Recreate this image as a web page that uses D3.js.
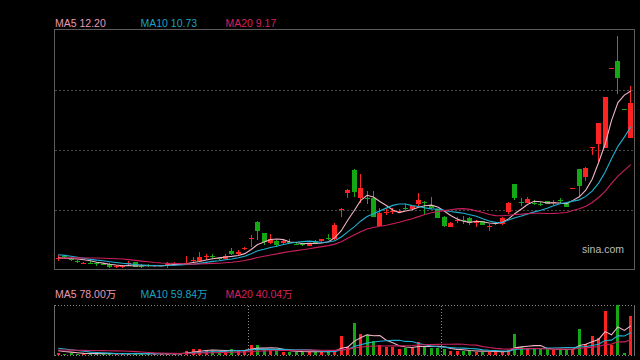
<!DOCTYPE html>
<html><head><meta charset="utf-8">
<script src="https://cdn.jsdelivr.net/npm/d3@7"></script>
<style>html,body{margin:0;padding:0;background:#000;}svg{display:block;}</style>
</head><body><svg id="c" width="640" height="360"></svg>
<script>
// ---- data (prices in 元, volume in 万手) ----
const priorClose = [5.13,5.17,5.17,5.21,5.17,5.13,5.17,5.21,5.21,5.17, 5.67,5.62,5.58,5.58,5.58, 5.42,5.34,5.30,5.30];
const priorVolume = [8,9,10,8,9,9,8,10,9,8, 22,26,25,24,25, 15,13,12,12];

const open = [5.32,5.42,5.34,5.21,5.13,5.15,5.13,5.11,5.11,4.97,
4.97,5.09,5.17,5.02,5.05,4.99,5.01,5.01,5.09,5.09,
5.09,5.21,5.20,5.40,5.40,5.32,5.31,5.64,5.49,5.72,
6.12,6.82,6.35,5.94,6.04,5.94,6.01,5.92,5.94,5.83,
6.01,6.02,6.17,6.10,7.35,7.99,8.95,7.82,7.82,7.82,
6.65,7.20,7.26,7.24,7.39,7.34,7.56,7.63,7.53,7.34,
7.03,6.62,6.89,6.91,6.99,6.76,6.86,6.63,6.73,6.73,
7.24,8.38,7.63,7.61,7.61,7.54,7.68,7.61,7.71,7.61,
8.20,9.00,8.67,9.89,10.03,9.87,13.16,13.43,11.45,10.28];
const high = [5.44,5.46,5.36,5.27,5.19,5.21,5.17,5.15,5.13,5.03,
5.05,5.23,5.19,5.09,5.07,5.05,5.05,5.17,5.17,5.13,
5.43,5.37,5.58,5.50,5.50,5.34,5.49,5.75,5.67,5.80,
6.27,6.84,6.36,6.32,6.06,6.06,6.10,5.97,5.95,5.95,
6.08,6.13,6.32,6.76,7.40,8.19,8.99,8.79,8.11,8.09,
7.41,7.34,7.40,7.34,7.54,7.49,8.02,7.69,7.83,7.35,
7.08,6.80,7.03,7.06,7.02,6.89,6.87,6.73,6.80,7.03,
7.65,8.39,7.79,7.83,7.72,7.63,7.69,7.72,7.79,7.63,
8.20,9.00,9.08,9.91,10.87,11.96,13.16,14.48,11.45,12.41];
const low = [5.21,5.34,5.23,5.13,5.11,5.09,5.01,5.05,4.92,4.92,
4.92,5.05,4.95,4.92,4.97,4.97,4.99,4.92,5.05,5.07,
5.05,5.17,5.17,5.25,5.28,5.25,5.30,5.47,5.46,5.67,
5.78,6.08,5.87,5.91,5.78,5.91,5.95,5.85,5.84,5.81,
5.94,6.01,6.08,6.08,7.01,7.82,7.86,7.58,7.54,7.02,
6.64,7.10,7.14,7.17,7.31,7.32,7.44,7.10,7.37,6.97,
6.60,6.61,6.76,6.73,6.68,6.62,6.68,6.46,6.71,6.68,
7.14,7.72,7.47,7.60,7.51,7.47,7.54,7.51,7.60,7.43,
8.20,7.86,8.50,9.57,9.29,9.87,13.16,12.08,11.45,10.28];
const close = [5.34,5.38,5.25,5.19,5.15,5.13,5.09,5.07,4.95,4.99,
5.00,5.13,4.98,5.00,4.99,5.03,5.03,5.15,5.11,5.11,
5.13,5.24,5.37,5.42,5.37,5.30,5.43,5.50,5.60,5.75,
6.15,6.46,5.99,6.12,5.86,6.02,5.98,5.90,5.86,5.94,
5.98,6.10,6.15,6.69,7.37,8.13,8.06,8.21,7.79,7.03,
7.20,7.23,7.28,7.26,7.37,7.47,7.72,7.60,7.38,6.98,
6.65,6.79,6.91,6.89,6.76,6.87,6.69,6.66,6.79,6.97,
7.61,7.79,7.60,7.75,7.58,7.51,7.56,7.64,7.68,7.44,
8.20,8.30,9.02,9.91,10.87,11.96,13.16,12.72,11.45,11.71];
const volume = [6,4,5,4,3,4,3,4,5,3,
3,4,5,3,3,3,3,5,4,4,
11,16,16,13,11,8,13,15,10,13,
27,27,15,13,11,9,9,8,9,9,
8,9,9,14,51,22,87,56,54,38,
27,22,22,16,20,20,35,22,18,20,
16,11,11,12,11,9,9,9,9,9,
13,56,22,18,16,15,17,14,16,15.4,
12.4,70,30,51,45,118,27,134,6,105];

const maPeriods = [5, 10, 20];
const maNames = ["MA5", "MA10", "MA20"];
const dividers = [30, 60];
const volumeUnit = "万";
const sourceLabel = "sina.com";

// ---- styles ----
const RED = "#ff2222", GREEN = "#14a814";
const maLineColors = ["#f0b4c6", "#1fb0d2", "#c8205c"];
const maTextColors = ["#e79ab2", "#1aa2c2", "#d8205e"];
const FONT = "'Liberation Sans', Arial, 'Noto Sans CJK SC', sans-serif";

const svg = d3.select("#c");
svg.append("rect").attr("width", 640).attr("height", 360).attr("fill", "#000");

const N = close.length;
const x = d3.scaleBand().domain(d3.range(N)).range([55, 634]).paddingInner(0.22).paddingOuter(0.11);
const cx = i => x(i) + x.bandwidth() / 2;
const y = d3.scaleLinear().domain([4.843, 14.707]).range([270, 30]);
const yv = d3.scaleLinear().domain([0, d3.max(volume)]).range([355, 305]);

const isUp = close.map((c, i) => c > open[i] ? true : c < open[i] ? false : (i > 0 ? c >= close[i - 1] : true));

function movingAvg(series, prior, n) {
  const all = prior.concat(series), off = prior.length;
  return series.map((_, i) => d3.mean(all.slice(off + i - n + 1, off + i + 1)));
}

// ---- price panel frame & grid ----
const gridVals = d3.range(1, 4).map(k => y.domain()[0] + k * (y.domain()[1] - y.domain()[0]) / 4);
svg.append("g").selectAll("line").data(gridVals).join("line")
  .attr("x1", 55).attr("x2", 634)
  .attr("y1", d => Math.round(y(d)) + 0.5).attr("y2", d => Math.round(y(d)) + 0.5)
  .attr("stroke", "#4a4a4a").attr("stroke-dasharray", "2,2").attr("shape-rendering", "crispEdges");
svg.append("rect").attr("x", 54.5).attr("y", 29.5).attr("width", 580).attr("height", 240)
  .attr("fill", "none").attr("stroke", "#5c5c5c").attr("shape-rendering", "crispEdges");

// ---- candles ----
const cg = svg.append("g").attr("shape-rendering", "crispEdges");
cg.selectAll("line").data(d3.range(N)).join("line")
  .attr("x1", i => Math.floor(cx(i)) + 0.5).attr("x2", i => Math.floor(cx(i)) + 0.5)
  .attr("y1", i => y(high[i])).attr("y2", i => y(low[i]))
  .attr("stroke", i => isUp[i] ? RED : GREEN).attr("stroke-width", 1);
cg.selectAll("rect").data(d3.range(N)).join("rect")
  .attr("x", i => Math.floor(cx(i)) - 2).attr("width", 5)
  .attr("y", i => y(Math.max(open[i], close[i])))
  .attr("height", i => Math.max(1, Math.abs(y(open[i]) - y(close[i]))))
  .attr("fill", i => isUp[i] ? RED : GREEN);

// ---- price MAs ----
const priceMA = maPeriods.map(n => movingAvg(close, priorClose, n));
const lineP = d3.line().x((d, i) => cx(i)).y(d => y(d));
priceMA.forEach((s, k) => {
  svg.append("path").datum(s).attr("d", lineP).attr("fill", "none")
    .attr("stroke", maLineColors[k]).attr("stroke-width", 1.1);
});

// ---- price legend ----
const legendX = [55, 140.5, 225.5];
priceMA.forEach((s, k) => {
  svg.append("text").attr("x", legendX[k]).attr("y", 27)
    .attr("font-family", FONT).attr("font-size", 10.5).attr("fill", maTextColors[k])
    .text(maNames[k] + " " + s[N - 1].toFixed(2));
});

// ---- source label ----
svg.append("text").attr("x", 582).attr("y", 253).attr("font-family", FONT)
  .attr("font-size", 10.5).attr("fill", "#bdbdbd").text(sourceLabel);

// ---- volume panel ----
const vg = svg.append("g").attr("shape-rendering", "crispEdges");
vg.append("line").attr("x1", 55).attr("x2", 634).attr("y1", 305.5).attr("y2", 305.5)
  .attr("stroke", "#8a8a8a").attr("stroke-dasharray", "1,2");
vg.append("line").attr("x1", 55).attr("x2", 634).attr("y1", 355.5).attr("y2", 355.5)
  .attr("stroke", "#8a8a8a").attr("stroke-dasharray", "1,2");
vg.append("line").attr("x1", 54.5).attr("x2", 54.5).attr("y1", 305).attr("y2", 356).attr("stroke", "#6a6a6a");
vg.append("line").attr("x1", 634.5).attr("x2", 634.5).attr("y1", 305).attr("y2", 356).attr("stroke", "#6a6a6a");
vg.selectAll("line.div").data(dividers).join("line").attr("class", "div")
  .attr("x1", d => Math.round(x(d) - x.step() * 0.11) + 0.5).attr("x2", d => Math.round(x(d) - x.step() * 0.11) + 0.5)
  .attr("y1", 306).attr("y2", 355).attr("stroke", "#8a8a8a").attr("stroke-dasharray", "1,2");

vg.selectAll("rect.v").data(d3.range(N)).join("rect").attr("class", "v")
  .attr("x", i => Math.floor(cx(i)) - 1).attr("width", 3)
  .attr("y", i => yv(volume[i])).attr("height", i => 355 - yv(volume[i]))
  .attr("fill", i => isUp[i] ? RED : GREEN);

const volMA = maPeriods.map(n => movingAvg(volume, priorVolume, n));
const lineV = d3.line().x((d, i) => cx(i)).y(d => yv(d));
volMA.forEach((s, k) => {
  svg.append("path").datum(s).attr("d", lineV).attr("fill", "none")
    .attr("stroke", maLineColors[k]).attr("stroke-width", 1.1);
});
volMA.forEach((s, k) => {
  svg.append("text").attr("x", legendX[k]).attr("y", 298)
    .attr("font-family", FONT).attr("font-size", 10.5).attr("fill", maTextColors[k])
    .text(maNames[k] + " " + s[N - 1].toFixed(2) + volumeUnit);
});
</script></body></html>
